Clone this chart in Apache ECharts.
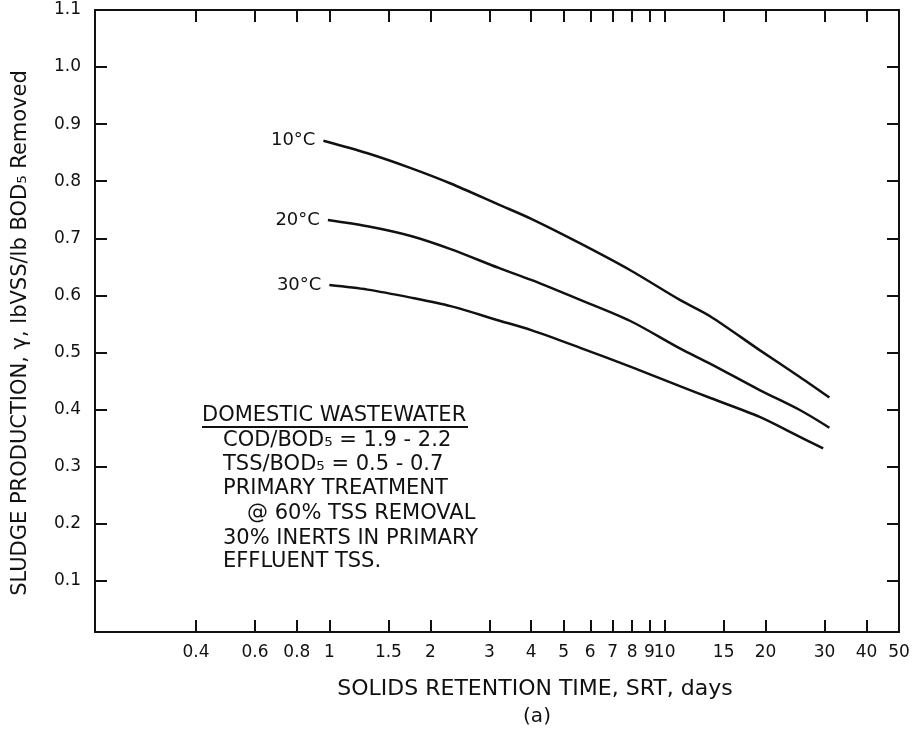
<!DOCTYPE html>
<html><head><meta charset="utf-8">
<script src="https://cdn.jsdelivr.net/npm/echarts@6/dist/echarts.min.js"></script>
<style>html,body{margin:0;padding:0;background:#fff}#c{width:915px;height:736px}</style>
</head><body><div id="c"></div>
<script>
// ---- data ----
const xTickValues = [0.4, 0.6, 0.8, 1, 1.5, 2, 3, 4, 5, 6, 7, 8, 9, 10, 15, 20, 30, 40, 50];
const yTickValues = [0.1, 0.2, 0.3, 0.4, 0.5, 0.6, 0.7, 0.8, 0.9, 1.0, 1.1];
const seriesNames = ['10°C', '20°C', '30°C'];
const srt10 = [0.96, 1.3, 1.75, 2.3, 3.2, 4.0, 5.6, 7.9, 11.1, 13.7, 19.2, 25.3, 31];
const y10   = [0.871, 0.849, 0.823, 0.796, 0.759, 0.734, 0.691, 0.644, 0.592, 0.563, 0.504, 0.457, 0.421];
const srt20 = [0.99, 1.3, 1.75, 2.3, 3.2, 4.0, 5.6, 7.9, 11.1, 13.7, 19.2, 25.3, 31];
const y20   = [0.732, 0.721, 0.704, 0.681, 0.648, 0.627, 0.592, 0.555, 0.507, 0.480, 0.434, 0.399, 0.368];
const srt30 = [1.0, 1.3, 1.75, 2.3, 3.2, 4.0, 5.6, 7.9, 11.1, 13.7, 19.2, 25.3, 29.7];
const y30   = [0.618, 0.610, 0.596, 0.581, 0.556, 0.539, 0.508, 0.475, 0.441, 0.420, 0.387, 0.352, 0.332];
const noteLines = [
  'COD/BOD₅ = 1.9 - 2.2',
  'TSS/BOD₅ = 0.5 - 0.7',
  'PRIMARY TREATMENT',
  '@ 60% TSS REMOVAL',
  '30% INERTS IN PRIMARY',
  'EFFLUENT TSS.'
];
const noteTitle = 'DOMESTIC WASTEWATER';
const xTitle = 'SOLIDS RETENTION TIME, SRT, days';
const yTitle = 'SLUDGE PRODUCTION, γ, lbVSS/lb BOD₅ Removed';
const subTitle = '(a)';

// ---- chart ----
const FONT = 'DejaVu Sans';
const INK = '#111';
const chart = echarts.init(document.getElementById('c'), null, {renderer: 'canvas'});

function pairs(xs, ys, name) {
  return xs.map((x, i) => {
    const d = {value: [x, ys[i]]};
    if (i === 0) d.label = {show: true, position: 'left', distance: 8, formatter: name,
      fontFamily: FONT, fontSize: 18, color: INK};
    return d;
  });
}
function fmtX(v) { return String(+Number(v).toPrecision(3)); }

const tickStyle = {lineStyle: {color: INK, width: 2}};
const xCommon = {
  type: 'log', logBase: 10, min: 0.2, max: 50,
  axisLine: {show: true, onZero: false, lineStyle: {color: INK, width: 2}},
  splitLine: {show: false}, minorTick: {show: false}
};
const yCommon = {
  type: 'value', min: 0.01, max: 1.1,
  axisLine: {show: true, onZero: false, lineStyle: {color: INK, width: 2}},
  splitLine: {show: false}
};

const noteFont = '21px "' + FONT + '"';
const noteGraphics = [];
noteGraphics.push({type: 'text', x: 202, y: 416, style: {text: noteTitle, font: noteFont, fill: INK, textVerticalAlign: 'middle'}});
noteGraphics.push({type: 'line', shape: {x1: 202, y1: 427, x2: 468, y2: 427}, style: {stroke: INK, lineWidth: 2}});
const noteX = [223, 223, 223, 247, 223, 223];
const noteY = [441, 465, 489, 514, 539, 562];
noteLines.forEach((t, i) => noteGraphics.push({type: 'text', x: noteX[i], y: noteY[i],
  style: {text: t, font: noteFont, fill: INK, textVerticalAlign: 'middle'}}));
noteGraphics.push({type: 'text', x: 535, y: 689, style: {text: xTitle, font: '22px "' + FONT + '"', fill: INK, textAlign: 'center', textVerticalAlign: 'middle'}});
noteGraphics.push({type: 'text', x: 537, y: 717, style: {text: subTitle, font: '20px "' + FONT + '"', fill: INK, textAlign: 'center', textVerticalAlign: 'middle'}});

const lineSeries = (name, xs, ys) => ({
  name: name, type: 'line', smooth: 0.3,
  symbol: 'circle', symbolSize: 0, showSymbol: true,
  itemStyle: {color: INK},
  data: pairs(xs, ys, name),
  lineStyle: {color: INK, width: 2.5}
});

chart.setOption({
  animation: false,
  backgroundColor: '#fff',
  grid: {left: 95, right: 16, top: 10, bottom: 104, containLabel: false},
  xAxis: [
    Object.assign({}, xCommon, {position: 'bottom',
      axisTick: Object.assign({inside: true, length: 12, customValues: xTickValues}, tickStyle),
      axisLabel: {customValues: xTickValues, formatter: fmtX, margin: 12, fontFamily: FONT, fontSize: 17, color: INK}}),
    Object.assign({}, xCommon, {position: 'top',
      axisTick: Object.assign({inside: true, length: 12, customValues: xTickValues}, tickStyle),
      axisLabel: {show: false}})
  ],
  yAxis: [
    Object.assign({}, yCommon, {position: 'left',
      name: yTitle, nameLocation: 'middle', nameGap: 64, nameRotate: 90,
      nameTextStyle: {fontFamily: FONT, fontSize: 21, color: INK, padding: [0, 24, 0, 0]},
      axisTick: Object.assign({inside: true, length: 12, customValues: yTickValues}, tickStyle),
      axisLabel: {customValues: yTickValues, formatter: v => Number(v).toFixed(1), margin: 14, fontFamily: FONT, fontSize: 17, color: INK}}),
    Object.assign({}, yCommon, {position: 'right',
      axisTick: Object.assign({inside: true, length: 12, customValues: yTickValues}, tickStyle),
      axisLabel: {show: false}})
  ],
  series: [
    lineSeries(seriesNames[0], srt10, y10),
    lineSeries(seriesNames[1], srt20, y20),
    lineSeries(seriesNames[2], srt30, y30)
  ],
  graphic: noteGraphics
});
</script></body></html>
